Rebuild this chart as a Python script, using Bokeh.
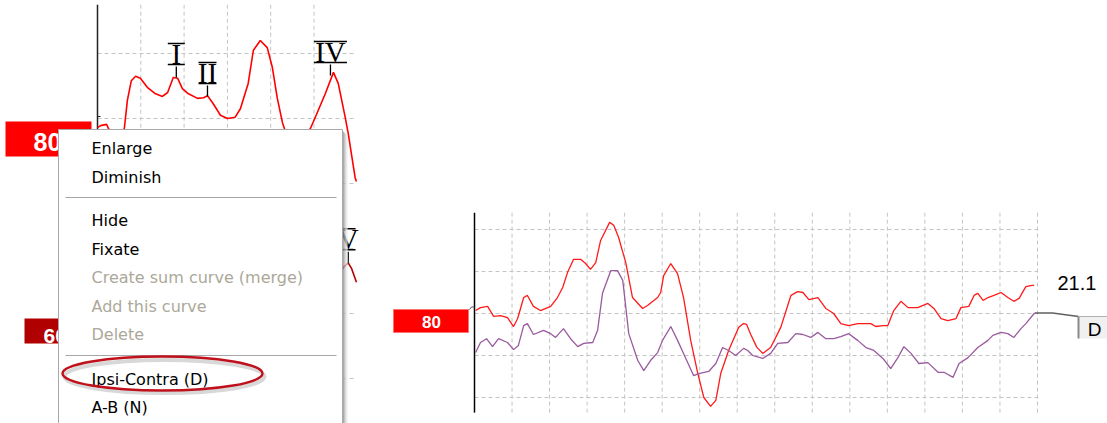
from bokeh.plotting import figure
from bokeh.models import Range1d
from bokeh.embed import file_html
from bokeh.resources import INLINE
from bokeh.core.properties import value

# ---------------- data ----------------
# Right panel: Ipsi-Contra view, latency (ms) vs amplitude (grid divisions)
ipsi_lat = [0.03, 0.16, 0.35, 0.51, 0.69, 0.88, 1.04, 1.15, 1.31, 1.41, 1.57, 1.76, 2.03, 2.21,
            2.35, 2.48, 2.64, 2.83, 2.96, 3.09, 3.23, 3.36, 3.60, 3.71, 3.84, 4.03, 4.21, 4.48,
            4.61, 4.88, 4.96, 5.04, 5.23, 5.41, 5.57, 5.76, 5.95, 6.11, 6.29, 6.43, 6.56, 6.77,
            7.04, 7.17, 7.25, 7.36, 7.52, 7.68, 7.89, 8.16, 8.43, 8.61, 8.75, 8.91, 9.15, 9.36,
            9.57, 9.76, 9.97, 10.21, 10.56, 10.69, 10.88, 11.01, 11.17, 11.36, 11.55, 11.81,
            12.08, 12.24, 12.43, 12.61, 12.83, 12.96, 13.17, 13.31, 13.41, 13.55, 13.68, 13.84,
            14.03, 14.21, 14.37, 14.51, 14.69, 14.85, 14.91]
ipsi_amp = [0.07, 0.14, 0.17, -0.07, -0.05, -0.10, -0.31, -0.12, 0.38, 0.43, 0.17, 0.07, 0.17, 0.38,
            0.62, 0.98, 1.29, 1.29, 1.19, 1.05, 1.21, 1.74, 2.17, 2.10, 1.81, 1.21, 0.38, 0.12,
            0.19, 0.38, 0.50, 0.90, 1.19, 0.95, 0.38, -0.64, -1.43, -2.00, -2.21, -2.07, -1.43, -0.88,
            -0.33, -0.24, -0.26, -0.50, -0.80, -0.95, -0.81, -0.33, 0.43, 0.52, 0.50, 0.33, 0.38, 0.12,
            0.00, -0.24, -0.29, -0.24, -0.24, -0.31, -0.29, -0.29, 0.07, 0.29, 0.14, 0.14,
            0.24, 0.12, -0.12, -0.17, -0.12, 0.14, 0.17, 0.43, 0.48, 0.31, 0.38, 0.43,
            0.50, 0.38, 0.29, 0.36, 0.64, 0.67, 0.67]

diff_lat = [0.03, 0.16, 0.32, 0.48, 0.64, 0.88, 1.04, 1.17, 1.31, 1.41, 1.57, 1.84, 2.03, 2.16,
            2.37, 2.56, 2.75, 2.91, 3.15, 3.28, 3.41, 3.63, 3.81, 3.95, 4.11, 4.35, 4.51, 4.69,
            4.88, 5.01, 5.23, 5.41, 5.57, 5.84, 5.97, 6.24, 6.43, 6.61, 6.77, 6.96, 7.17, 7.28,
            7.41, 7.68, 7.89, 8.08, 8.35, 8.56, 8.75, 8.96, 9.15, 9.36, 9.57, 9.76, 9.97, 10.21,
            10.43, 10.64, 10.88, 11.09, 11.28, 11.44, 11.63, 11.84, 12.08, 12.35, 12.51, 12.75,
            12.91, 13.15, 13.41, 13.68, 13.81, 14.03, 14.21, 14.37, 14.56, 14.69, 14.91, 14.96]
diff_amp = [-0.93, -0.69, -0.60, -0.79, -0.60, -0.69, -0.86, -0.76, -0.29, -0.24, -0.50, -0.40, -0.48, -0.57,
            -0.36, -0.60, -0.79, -0.71, -0.69, -0.40, 0.48, 1.02, 1.02, 0.79, -0.48, -1.12, -1.36, -1.12,
            -0.93, -0.64, -0.31, -0.64, -0.95, -1.48, -1.43, -1.38, -1.19, -0.81, -0.88, -1.00, -0.83, -0.88,
            -1.00, -1.07, -0.95, -0.71, -0.69, -0.48, -0.50, -0.57, -0.45, -0.60, -0.60, -0.55, -0.48, -0.64,
            -0.81, -0.88, -1.07, -1.31, -1.05, -0.79, -0.95, -1.19, -1.17, -1.40, -1.40, -1.52,
            -1.19, -1.05, -0.81, -0.64, -0.52, -0.45, -0.48, -0.57, -0.36, -0.24, 0.00, 0.02]

right_grid_ms = list(range(1, 16))
right_grid_amp = [-2, -1, 0, 1, 2]
right_axis_amp = [-2.36, 2.40]
right_level = "80"
right_value = "21.1"
right_tag = "D"

# Left panel: enlarged 80 dB curve (ms vs grid divisions)
left_lat = [0.00, 0.07, 0.21, 0.25, 0.44, 0.58, 0.62, 0.69, 0.78, 0.88, 0.99, 1.15, 1.34, 1.50,
            1.62, 1.75, 1.85, 1.96, 2.10, 2.31, 2.45, 2.54, 2.65, 2.84, 3.00, 3.18, 3.30, 3.48,
            3.60, 3.76, 3.92, 4.04, 4.15, 4.27, 4.41, 4.59, 4.78, 4.92, 5.03, 5.26, 5.45, 5.56,
            5.72, 5.79, 5.95, 5.98]
left_amp = [-0.14, -0.11, -0.09, -0.15, -0.34, -0.26, -0.15, 0.28, 0.58, 0.65, 0.62, 0.48, 0.38, 0.34,
            0.40, 0.63, 0.62, 0.46, 0.38, 0.31, 0.32, 0.35, 0.25, 0.05, 0.00, 0.02, 0.15, 0.54,
            1.05, 1.20, 1.09, 0.78, 0.32, -0.06, -0.34, -0.46, -0.31, -0.15, 0.02, 0.38, 0.71, 0.54,
            0.02, -0.23, -0.91, -0.97]
# Left panel: 60 dB curve (visible piece only)
left60_lat = [5.55, 5.68, 5.79, 5.87, 5.95, 5.98]
left60_amp = [-2.45, -2.29, -2.22, -2.31, -2.46, -2.52]

peak_names = ["I", "II", "IV", "V"]
peak_lat = [1.82, 2.54, 5.38, 5.79]
peak_amp = [0.63, 0.34, 0.66, -2.22]
peak_bar_w = [17, 18, 33, 17]

left_grid_ms = [1, 2, 3, 4, 5]
left_grid_amp = [1, 0, -1, -2, -3, -4]
left_levels = ["80", "60"]

menu_items = ["Enlarge", "Diminish", "Hide", "Fixate", "Create sum curve (merge)",
              "Add this curve", "Delete", "Ipsi-Contra (D)", "A-B (N)"]
menu_enabled = [True, True, True, True, False, False, False, True, True]
menu_center = [148, 177, 220, 249, 277, 306, 334, 379, 407]

# ---------------- layout (reference pixels) ----------------
W, H = 1107, 423
X0, X1, Y0, Y1 = 0, 1107, 0, 423

p = figure(width=W, height=H, output_backend="svg", toolbar_location=None,
           x_range=Range1d(X0, X1), y_range=Range1d(Y1, Y0),
           x_axis_location=None, y_axis_location=None, min_border=0,
           background_fill_color="white", border_fill_color="white")
p.outline_line_color = None
p.grid.visible = False

# right panel scales: origin px (474, 313), 37.53 px / ms, 42 px / division
RX0, RXS, RY0, RYS = 474.0, 563.0 / 15, 313.0, 42.0
p.extra_x_ranges["rx"] = Range1d((X0 - RX0) / RXS, (X1 - RX0) / RXS)
p.extra_y_ranges["ry"] = Range1d((RY0 - Y1) / RYS, (RY0 - Y0) / RYS)
# left panel scales: origin px (97, 118), 43.3 px / ms, 65 px / division
LX0, LXS, LY0, LYS = 97.0, 43.3, 118.0, 65.0
p.extra_x_ranges["lx"] = Range1d((X0 - LX0) / LXS, (X1 - LX0) / LXS)
p.extra_y_ranges["ly"] = Range1d((LY0 - Y1) / LYS, (LY0 - Y0) / LYS)

GRID = "#c4c4c4"
DASH = "4 3"

# ---------- right panel ----------
R = dict(x_range_name="rx", y_range_name="ry")
p.segment(x0=right_grid_ms, x1=right_grid_ms,
          y0=[right_axis_amp[0]] * len(right_grid_ms), y1=[right_axis_amp[1]] * len(right_grid_ms),
          line_color=GRID, line_dash=DASH, line_width=1, **R)
p.segment(x0=[0] * len(right_grid_amp), x1=[15] * len(right_grid_amp),
          y0=right_grid_amp, y1=right_grid_amp,
          line_color=GRID, line_dash=DASH, line_width=1, **R)
p.line(x=[0, 0], y=right_axis_amp, line_color="black", line_width=1.5, **R)
p.line(x=ipsi_lat, y=ipsi_amp, line_color="#ff1a1a", line_width=1.3, **R)
p.line(x=diff_lat, y=diff_amp, line_color="#9a5a9e", line_width=1.3, **R)

# level box "80"
p.quad(left=[393], right=[468], top=[309], bottom=[332], fill_color="#ff0000",
       line_color="#ff7070", line_width=1)
p.text(x=[431], y=[321], text=[right_level], text_font=value("Liberation Sans"),
       text_font_style="bold", text_font_size="17px", text_color="white",
       text_align="center", text_baseline="middle")
p.line(x=[469, 471, 474], y=[309, 306.5, 306.5], line_color="#555555", line_width=1)

# value and tag
p.text(x=[1057], y=[282], text=[right_value], text_font=value("Liberation Sans"),
       text_font_size="20px", text_color="black", text_align="left", text_baseline="middle")
p.line(x=[1035, 1052, 1078], y=[312.5, 312.5, 316], line_color="#606060", line_width=1.5)
p.quad(left=[1078], right=[1112], top=[316], bottom=[338], fill_color="#f0f0f0",
       line_color=None)
p.line(x=[1078, 1078], y=[316, 338], line_color="#8a8a8a", line_width=2)
p.line(x=[1078, 1107], y=[316, 316], line_color="#b0b0b0", line_width=1)
p.text(x=[1094], y=[329], text=[right_tag], text_font=value("Liberation Sans"),
       text_font_size="19px", text_color="black", text_align="center", text_baseline="middle")

# ---------- left panel ----------
L = dict(x_range_name="lx", y_range_name="ly")
p.segment(x0=left_grid_ms, x1=left_grid_ms, y0=[1.75] * len(left_grid_ms),
          y1=[-4.7] * len(left_grid_ms), line_color=GRID, line_dash=DASH, line_width=1, **L)
p.segment(x0=[0] * len(left_grid_amp), x1=[5.95] * len(left_grid_amp),
          y0=left_grid_amp, y1=left_grid_amp, line_color=GRID, line_dash=DASH, line_width=1, **L)
p.line(x=[0, 0], y=[1.75, -0.3], line_color="#222222", line_width=1.5, **L)
p.line(x=left_lat, y=left_amp, line_color="#ff0000", line_width=1.6, **L)
p.line(x=left60_lat, y=left60_amp, line_color="#b00000", line_width=1.6, **L)
p.line(x=[97, 97, 100], y=[123, 116, 116], line_color="#222222", line_width=1)

# peak markers: tick + roman numeral with over/under bars (screen offsets converted)
tick_len, gap, lab_h = 11.0 / LYS, 2.0 / LYS, 21.0 / LYS
for name, lt, am, bw in zip(peak_names, peak_lat, peak_amp, peak_bar_w):
    ttop = am + tick_len
    bb = ttop + gap
    tb = bb + lab_h
    hw = bw / 2.0 / LXS
    x1 = min(lt + hw, 5.96)
    p.segment(x0=[lt], x1=[lt], y0=[am], y1=[ttop], line_color="black", line_width=1.3, **L)
    p.segment(x0=[lt - hw, lt - hw], x1=[x1, x1], y0=[bb, tb], y1=[bb, tb],
              line_color="black", line_width=1.5, **L)
    p.text(x=[lt], y=[(bb + tb) / 2.0], text=[name], text_font=value("Liberation Serif"),
           text_font_size="29px", text_color="black", text_align="center",
           text_baseline="middle", **L)

# level boxes (enlarged)
p.quad(left=[5], right=[91], top=[121], bottom=[156], fill_color="#ff0000", line_color=None)
p.text(x=[47], y=[141], text=[left_levels[0]], text_font=value("Liberation Sans"),
       text_font_style="bold", text_font_size="25px", text_color="white",
       text_align="center", text_baseline="middle")
p.quad(left=[24], right=[91], top=[318], bottom=[343], fill_color="#b00000", line_color=None)
p.text(x=[43], y=[335], text=[left_levels[1]], text_font=value("Liberation Sans"),
       text_font_style="bold", text_font_size="21px", text_color="white",
       text_align="left", text_baseline="middle")

# ---------- context menu ----------
shadow = ["#7c7c7c", "#9c9c9c", "#bcbcbc", "#d6d6d6", "#ececec"]
for i, c in enumerate(shadow):
    p.quad(left=[342 + i], right=[343 + i], top=[131 + i], bottom=[440], fill_color=c,
           line_color=None)
p.quad(left=[58], right=[342], top=[129], bottom=[440], fill_color="white",
       line_color="#a8a8a8", line_width=1)
p.segment(x0=[65, 65], x1=[336, 336], y0=[197, 355], y1=[197, 355], line_color="#a6a6a6",
          line_width=1)
p.text(x=[91] * len(menu_items), y=menu_center, text=menu_items,
       text_font=value("DejaVu Sans"), text_font_size="16px",
       text_color=["#000000" if e else "#aca899" for e in menu_enabled],
       text_align="left", text_baseline="middle")

# highlight ellipse with soft shadow
p.ellipse(x=[164], y=[376], width=[200], height=[33], fill_color=None,
          line_color="#909090", line_alpha=0.35, line_width=4)
p.ellipse(x=[162], y=[373], width=[200], height=[34], fill_color=None,
          line_color="#c0101c", line_width=2.4)

open("out.html", "w").write(file_html(p, INLINE))
